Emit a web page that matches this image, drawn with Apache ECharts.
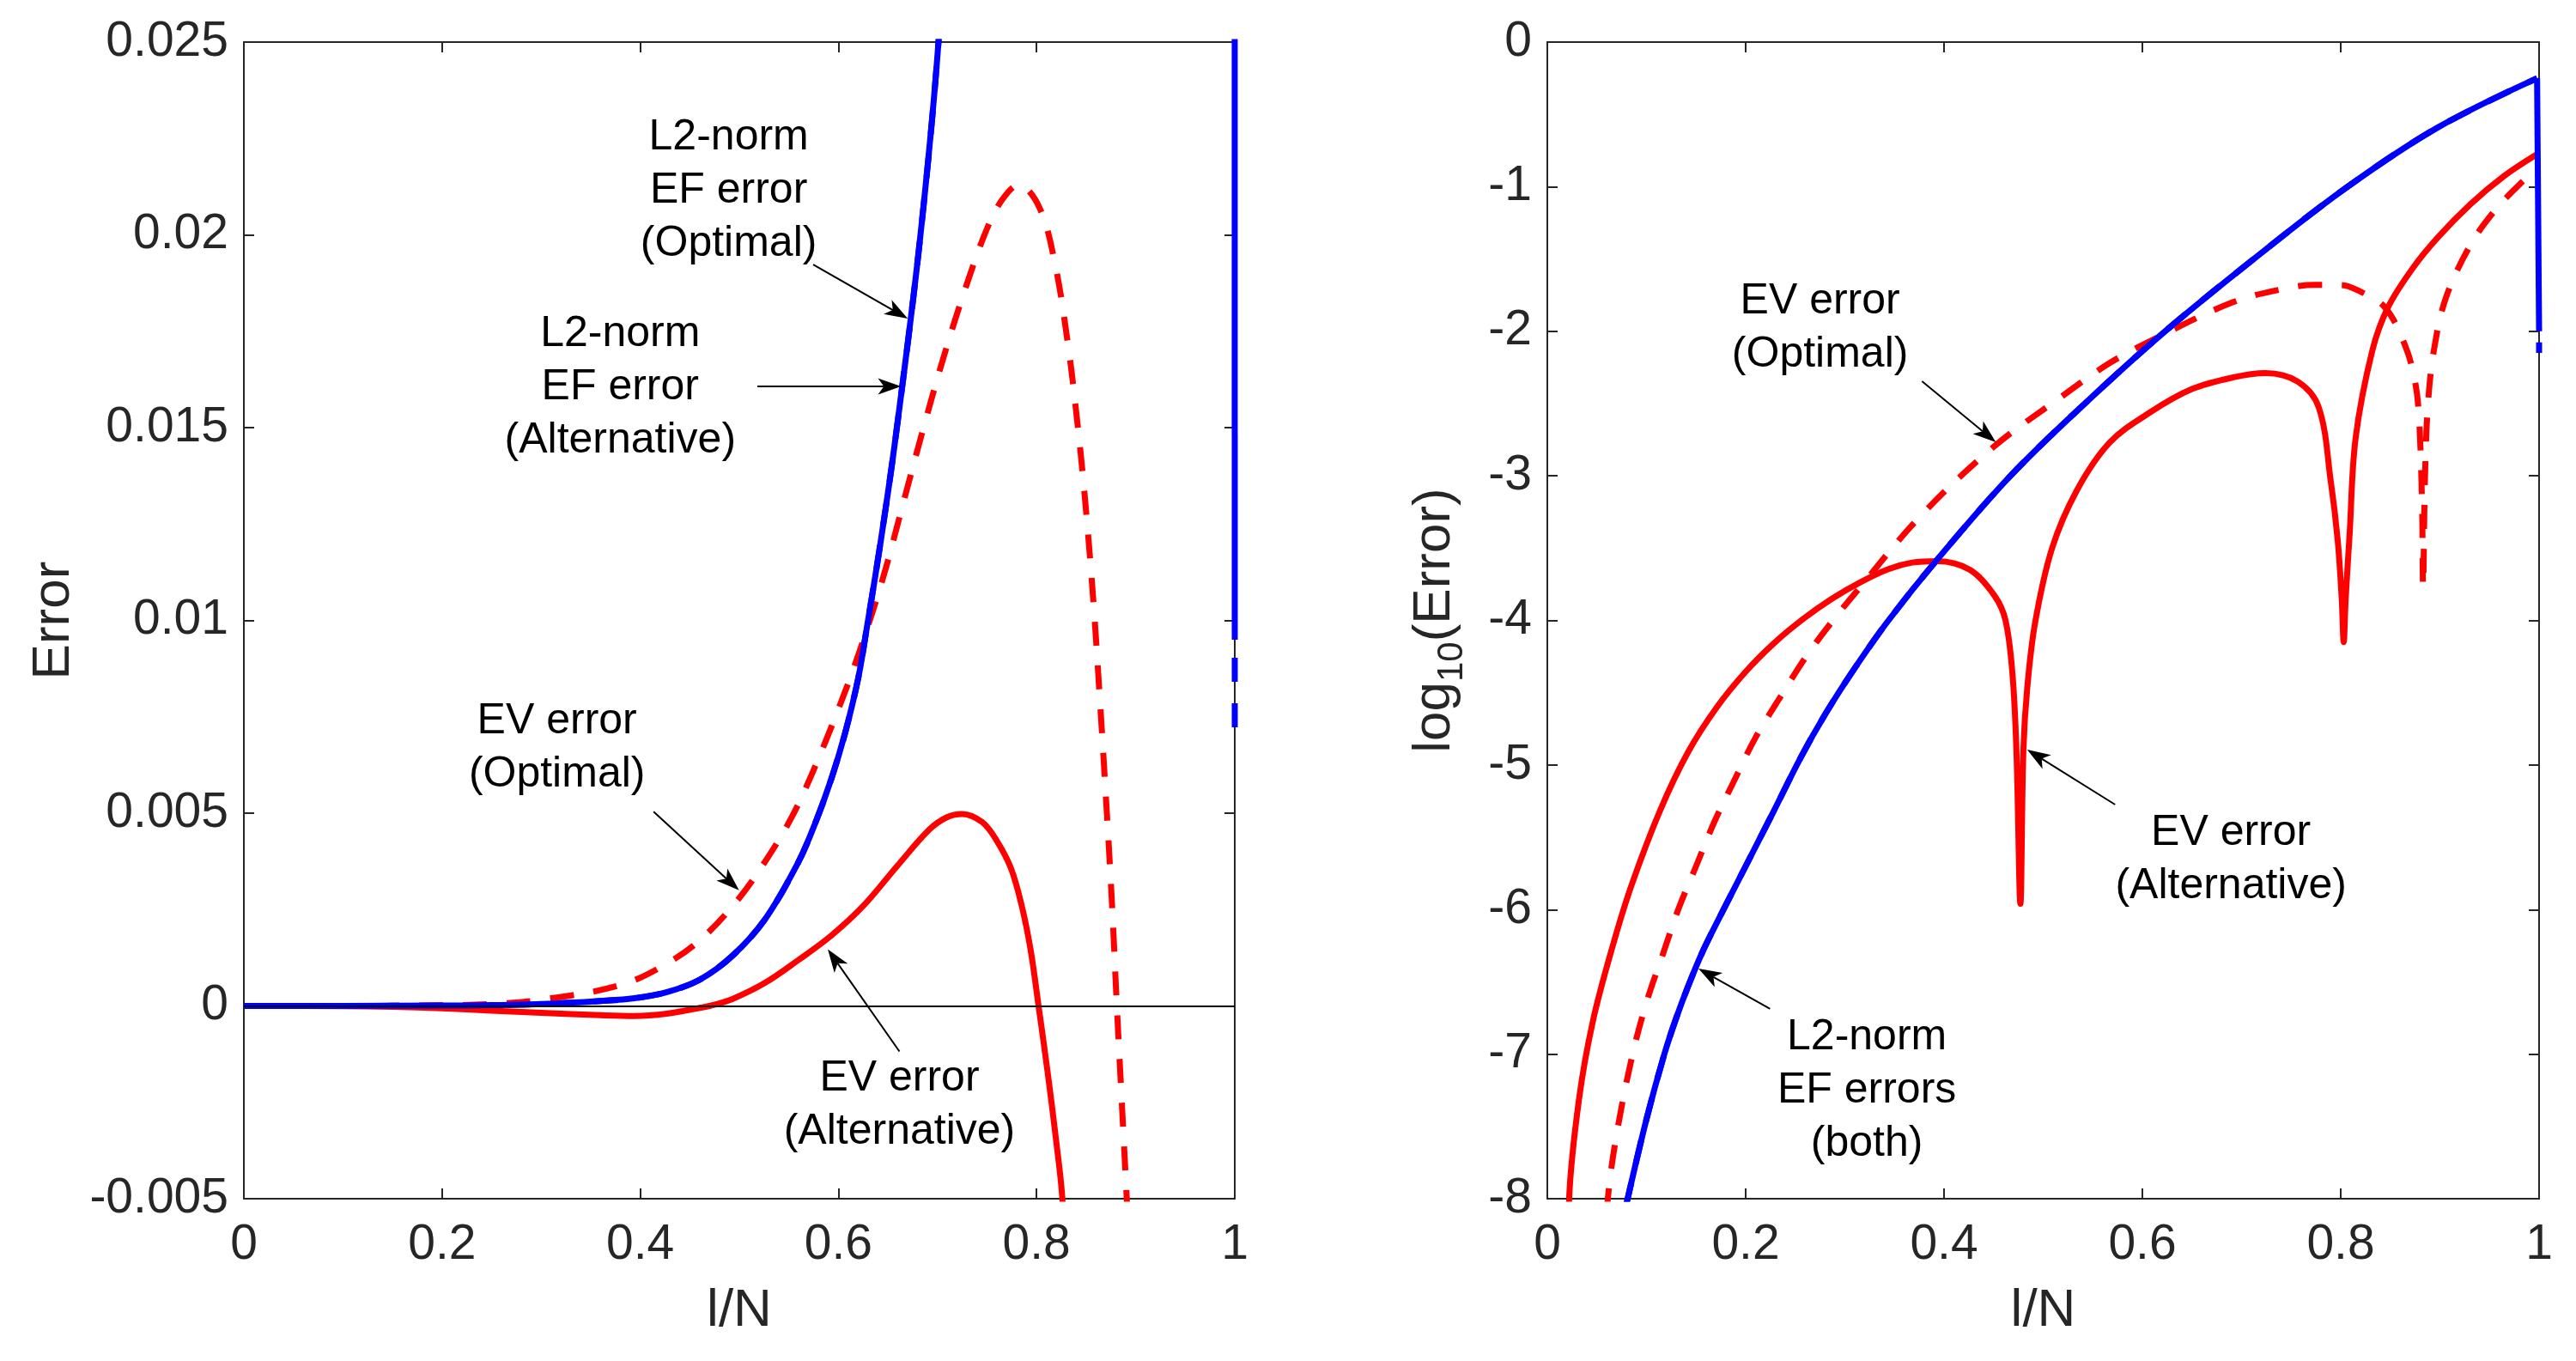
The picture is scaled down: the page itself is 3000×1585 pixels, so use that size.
<!DOCTYPE html>
<html>
<head>
<meta charset="utf-8"/>
<title>Error vs l/N</title>
<style>
*{margin:0;padding:0;}
html,body{background:#fff;}
#chart{width:3000px;height:1585px;}
</style>
<script src="https://cdn.jsdelivr.net/npm/echarts@6/dist/echarts.min.js"></script>
</head>
<body>
<div id="chart"></div>
<script>
// ---- left panel (linear error) ----
// L2-norm EF error, same for both up to the last sample
var lxL2 = [0, 0.1, 0.2, 0.25, 0.3, 0.36, 0.394, 0.427, 0.46, 0.493, 0.526, 0.559, 0.576, 0.593, 0.607, 0.62, 0.628, 0.643, 0.658, 0.682, 0.701, 0.716, 0.807, 0.898, 0.998];
var lyL2 = [0, 0.000001, 0.00001, 0.00002, 0.00005, 0.00013, 0.0002, 0.00036, 0.00068, 0.0013, 0.00225, 0.0037, 0.0047, 0.0059, 0.0071, 0.0085, 0.0097, 0.0121, 0.0148, 0.0198, 0.025, 0.0316, 0.1, 0.26, 0.56];
// drop at l/N = 1 (alternative, solid) and the extra tail of the optimal one (dashed)
var lxL2End = [0.998, 1];
var lyL2AltEnd = [0.56, 0.0095];
var lxL2OptTail = [1, 1];
var lyL2OptTail = [0.0095, 0.0072];
// EV error (Optimal), dashed
var lxEVOpt = [0, 0.1, 0.186, 0.25, 0.3, 0.38, 0.427, 0.463, 0.5, 0.53, 0.553, 0.573, 0.6, 0.62, 0.645, 0.666, 0.687, 0.707, 0.728, 0.749, 0.765, 0.782, 0.803, 0.819, 0.832, 0.84, 0.848, 0.857, 0.864, 0.87, 0.876, 0.881, 0.886, 0.891, 0.9];
var lyEVOpt = [0, 0, 0.00001, 0.00005, 0.00016, 0.00054, 0.0011, 0.00177, 0.0028, 0.0039, 0.0049, 0.006, 0.0077, 0.0091, 0.0111, 0.0131, 0.0151, 0.0169, 0.0186, 0.0201, 0.0209, 0.0213, 0.0207, 0.0192, 0.0171, 0.0154, 0.0134, 0.0106, 0.0079, 0.0054, 0.0027, 0, -0.0025, -0.005, -0.0098];
// EV error (Alternative), solid
var lxEVAlt = [0, 0.1, 0.15, 0.2, 0.25, 0.3, 0.36, 0.394, 0.427, 0.46, 0.47, 0.493, 0.526, 0.559, 0.593, 0.626, 0.659, 0.692, 0.71, 0.725, 0.745, 0.759, 0.774, 0.785, 0.794, 0.802, 0.811, 0.82, 0.826, 0.848];
var lyEVAlt = [0, -0.000003, -0.00002, -0.00006, -0.00012, -0.00018, -0.00024, -0.00026, -0.0002, -0.00005, 0, 0.00018, 0.0006, 0.00118, 0.00183, 0.00262, 0.00362, 0.00458, 0.0049, 0.00498, 0.00477, 0.00432, 0.00358, 0.0026, 0.00145, 0, -0.00169, -0.00355, -0.005, -0.0148];

// ---- right panel (log10 of error) ----
var rxL2 = [0.07, 0.081, 0.1, 0.118, 0.13, 0.142, 0.156, 0.171, 0.2, 0.229, 0.255, 0.281, 0.311, 0.344, 0.393, 0.467, 0.542, 0.623, 0.716, 0.807, 0.898, 0.998];
var ryL2 = [-8.35, -8, -7.45, -7.0, -6.75, -6.53, -6.3, -6.09, -5.7, -5.31, -4.955, -4.64, -4.32, -4.0, -3.58, -3.0, -2.5, -2.0, -1.48, -1.0, -0.59, -0.25];
var rxL2End = [0.998, 1];
var ryL2AltEnd = [-0.25, -2.0];
var rxL2OptTail = [1, 1];
var ryL2OptTail = [-2.0, -2.15];
var rxEVOpt = [0.05, 0.061, 0.07, 0.086, 0.101, 0.116, 0.132, 0.15, 0.168, 0.189, 0.21, 0.235, 0.261, 0.288, 0.317, 0.376, 0.45, 0.517, 0.567, 0.616, 0.691, 0.74, 0.774, 0.8, 0.815, 0.844, 0.865, 0.875, 0.879, 0.882, 0.883, 0.885, 0.888, 0.894, 0.906, 0.931, 0.956, 0.981, 0.997];
var ryEVOpt = [-9, -8, -7.55, -7, -6.62, -6.32, -6.0, -5.7, -5.4, -5.1, -4.81, -4.53, -4.25, -4.0, -3.757, -3.28, -2.8, -2.46, -2.22, -2.04, -1.8, -1.71, -1.68, -1.68, -1.71, -1.83, -2.1, -2.35, -2.6, -3.2, -3.77, -3.0, -2.5, -2.13, -1.77, -1.4, -1.16, -0.98, -0.88];
var rxEVAlt = [0.015, 0.022, 0.032, 0.046, 0.066, 0.085, 0.114, 0.142, 0.171, 0.2, 0.229, 0.258, 0.287, 0.316, 0.344, 0.368, 0.393, 0.426, 0.451, 0.462, 0.469, 0.473, 0.477, 0.48, 0.484, 0.492, 0.509, 0.534, 0.567, 0.608, 0.65, 0.691, 0.724, 0.757, 0.778, 0.79, 0.797, 0.801, 0.803, 0.805, 0.809, 0.815, 0.832, 0.848, 0.873, 0.898, 0.931, 0.964, 0.997];
var ryEVAlt = [-10, -8, -7.31, -6.77, -6.25, -5.83, -5.31, -4.91, -4.6, -4.355, -4.155, -3.99, -3.85, -3.735, -3.645, -3.6, -3.59, -3.65, -3.83, -4.0, -4.37, -4.9, -5.96, -4.9, -4.46, -4.01, -3.5, -3.1, -2.77, -2.56, -2.4, -2.32, -2.29, -2.35, -2.53, -3.04, -3.45, -3.85, -4.15, -3.85, -3.4, -2.74, -2.13, -1.83, -1.56, -1.35, -1.12, -0.93, -0.78];

// annotations: text centre and arrow (start -> tip), in data units
var leftNotes = [
	{text: 'L2-norm\nEF error\n(Optimal)', at: [0.4893, 0.02115], from: [0.5746, 0.01923], to: [0.670, 0.01783]},
	{text: 'L2-norm\nEF error\n(Alternative)', at: [0.3798, 0.01604], from: [0.5182, 0.01607], to: [0.6633, 0.01607]},
	{text: 'EV error\n(Optimal)', at: [0.316, 0.00669], from: [0.4135, 0.00504], to: [0.4997, 0.0030]},
	{text: 'EV error\n(Alternative)', at: [0.6616, -0.00258], from: [0.6616, -0.00118], to: [0.5893, 0.00147]}
];
var rightNotes = [
	{text: 'EV error\n(Optimal)', at: [0.275, -1.98], from: [0.3778, -2.346], to: [0.4523, -2.768]},
	{text: 'EV error\n(Alternative)', at: [0.6893, -5.657], from: [0.5725, -5.274], to: [0.4838, -4.894]},
	{text: 'L2-norm\nEF errors\n(both)', at: [0.3222, -7.251], from: [0.2246, -6.687], to: [0.1524, -6.408]}
];

var FONT = 'Liberation Sans, Arial, sans-serif';
var AXC = '#262626';
var BLUE = '#0000ff', RED = '#ff0000';
var LW = 7;
var DASH = [28, 23];

function pairs(xs, ys){
	var out = [];
	for(var i=0;i<xs.length;i++) out.push([xs[i], ys[i]]);
	return out;
}

function xAx(grid, pos, name){
	var lab = pos == 'bottom';
	return {
		type: 'value', gridIndex: grid, position: pos, min: 0, max: 1, interval: 0.2,
		name: lab ? name : '', nameLocation: 'middle', nameGap: 100,
		nameTextStyle: {fontSize: 62, fontFamily: FONT, color: AXC, lineHeight: 62},
		axisLine: {show: true, onZero: false, lineStyle: {color: AXC, width: 2}},
		axisTick: {show: true, inside: true, length: 12, lineStyle: {color: AXC, width: 2}},
		axisLabel: {show: lab, margin: 26, fontSize: 57, fontFamily: FONT, color: AXC,
			formatter: function(v){ return String(+v.toFixed(1)); }},
		splitLine: {show: false}
	};
}
function yAx(grid, pos, min, max, step, dec){
	var lab = pos == 'left';
	return {
		type: 'value', gridIndex: grid, position: pos, min: min, max: max, interval: step,
		axisLine: {show: true, onZero: false, lineStyle: {color: AXC, width: 2}},
		axisTick: {show: true, inside: true, length: 12, lineStyle: {color: AXC, width: 2}},
		axisLabel: {show: lab, margin: 18, fontSize: 57, fontFamily: FONT, color: AXC,
			formatter: function(v){ return String(+v.toFixed(dec)); }},
		splitLine: {show: false}
	};
}

function line(xi, data, color, dashed, extra){
	var s = {
		type: 'line', xAxisIndex: xi, yAxisIndex: xi, data: data,
		showSymbol: false, symbol: 'none', clip: true, animation: false, silent: true,
		smooth: 0.35,
		lineStyle: {color: color, width: LW, type: dashed ? DASH : 'solid', cap: 'butt', join: 'round'}
	};
	for(var k in extra) s[k] = extra[k];
	return s;
}
// short straight pieces at l/N = 1
function piece(xi, data, dash, offset){
	return line(xi, data, BLUE, false, {
		smooth: false,
		lineStyle: {color: BLUE, width: LW, type: dash || 'solid', dashOffset: offset || 0, cap: 'butt'}
	});
}

var yl = yAx(0, 'left', -0.005, 0.025, 0.005, 3);
yl.name = 'Error';
yl.nameLocation = 'middle';
yl.nameGap = 190;
yl.nameTextStyle = {fontSize: 62, fontFamily: FONT, color: AXC, lineHeight: 62};

var yr = yAx(1, 'left', -8, 0, 1, 0);
yr.name = '{a|log}{b|10}{a|(Error)}';
yr.nameLocation = 'middle';
yr.nameGap = 90;
yr.nameTextStyle = {color: AXC, rich: {
	a: {fontSize: 62, fontFamily: FONT, color: AXC, lineHeight: 82},
	b: {fontSize: 42, fontFamily: FONT, color: AXC, lineHeight: 30, verticalAlign: 'bottom'}
}};

var chart = echarts.init(document.getElementById('chart'));
var option = {
	backgroundColor: '#fff',
	animation: false,
	grid: [
		{left: 284, top: 49, width: 1154, height: 1347},
		{left: 1802, top: 49, width: 1155, height: 1347}
	],
	xAxis: [xAx(0, 'bottom', 'l/N'), xAx(1, 'bottom', 'l/N'), xAx(0, 'top'), xAx(1, 'top')],
	yAxis: [yl, yr, yAx(0, 'right', -0.005, 0.025, 0.005, 3), yAx(1, 'right', -8, 0, 1, 0)],
	series: [
		line(0, pairs(lxL2, lyL2), BLUE, true, {
			markLine: {silent: true, symbol: 'none', label: {show: false}, animation: false,
				lineStyle: {color: '#000', width: 2, type: 'solid'}, data: [{yAxis: 0}]}
		}),
		line(0, pairs(lxEVOpt, lyEVOpt), RED, true),
		line(0, pairs(lxEVAlt, lyEVAlt), RED, false),
		line(0, pairs(lxL2, lyL2), BLUE, false),
		piece(0, pairs(lxL2End, lyL2AltEnd)),
		piece(0, pairs(lxL2OptTail, lyL2OptTail), [28, 25], 32),
		line(1, pairs(rxL2, ryL2), BLUE, true),
		line(1, pairs(rxEVOpt, ryEVOpt), RED, true),
		line(1, pairs(rxEVAlt, ryEVAlt), RED, false),
		line(1, pairs(rxL2, ryL2), BLUE, false),
		piece(1, pairs(rxL2End, ryL2AltEnd)),
		piece(1, pairs(rxL2OptTail, ryL2OptTail), [28, 25], 40)
	]
};
chart.setOption(option);

// annotation text and arrows, placed through the axes
function arrow(p0, p1){
	var dx = p1[0]-p0[0], dy = p1[1]-p0[1], len = Math.sqrt(dx*dx+dy*dy);
	var ux = dx/len, uy = dy/len, L = 27, W = 9.5, N = 20;
	var bx = p1[0]-ux*L, by = p1[1]-uy*L, nx = p1[0]-ux*N, ny = p1[1]-uy*N;
	return [
		{type: 'line', silent: true, z: 100, shape: {x1: p0[0], y1: p0[1], x2: nx, y2: ny}, style: {stroke: '#000', lineWidth: 2}},
		{type: 'polygon', silent: true, z: 100, shape: {points: [[p1[0], p1[1]], [bx-uy*W, by+ux*W], [nx, ny], [bx+uy*W, by-ux*W]]}, style: {fill: '#000'}}
	];
}
var els = [];
function addNotes(notes, xi){
	notes.forEach(function(n){
		var f = {xAxisIndex: xi, yAxisIndex: xi};
		var c = chart.convertToPixel(f, n.at);
		els.push({type: 'text', silent: true, z: 100, x: c[0], y: c[1], style: {
			text: n.text, fill: '#000', fontSize: 50, fontFamily: FONT, lineHeight: 62,
			align: 'center', verticalAlign: 'middle'}});
		els = els.concat(arrow(chart.convertToPixel(f, n.from), chart.convertToPixel(f, n.to)));
	});
}
addNotes(leftNotes, 0);
addNotes(rightNotes, 1);
chart.setOption({graphic: els});
</script>
</body>
</html>
